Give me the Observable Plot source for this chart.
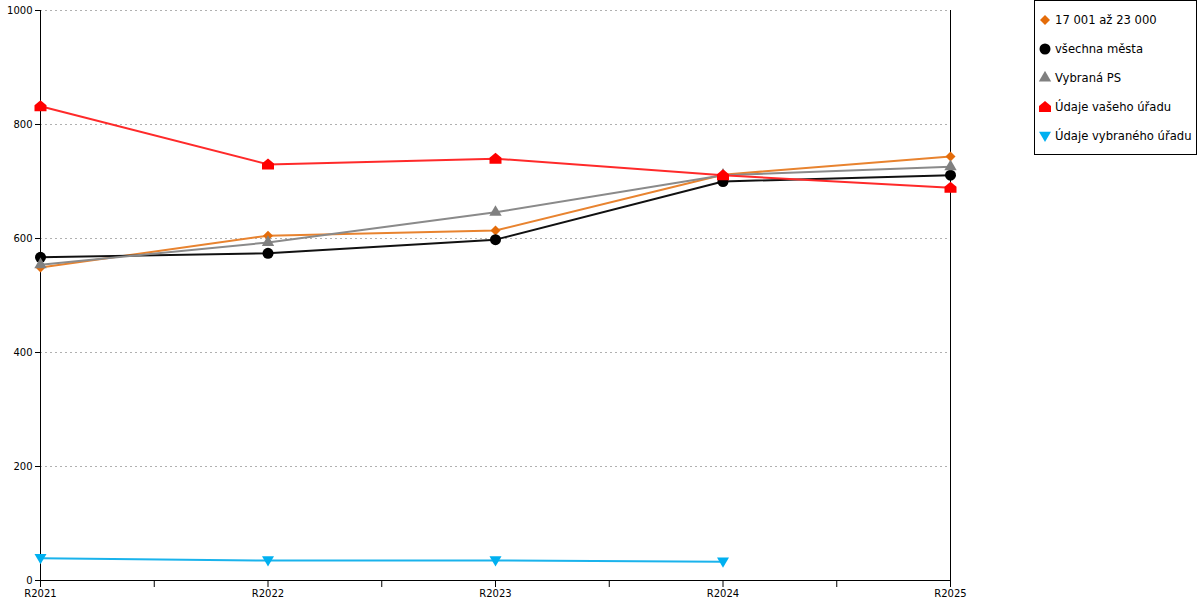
<!DOCTYPE html>
<html>
<head>
<meta charset="utf-8">
<script src="https://cdn.jsdelivr.net/npm/d3@7"></script>
<script src="https://cdn.jsdelivr.net/npm/@observablehq/plot@0.6"></script>
<style>
  html, body { margin: 0; padding: 0; background: #fff; }
  #wrap { position: relative; width: 1200px; height: 600px; font-family: "DejaVu Sans", sans-serif; }
  #legend { position: absolute; left: 1034px; top: 0px; width: 163px; height: 155px; border: 1px solid #000; background: #fff; box-sizing: border-box; font-size: 11.6px; }
  #legend .item { position: absolute; left: 0; height: 16px; display: flex; align-items: center; white-space: nowrap; }
  #legend svg { margin-left: 3px; margin-right: 3px; }
</style>
</head>
<body>
<div id="wrap">
  <div id="chart"></div>
  <div id="legend"></div>
</div>
<script>
const categories = ["R2021", "R2022", "R2023", "R2024", "R2025"];
const seriesNames = ["17 001 až 23 000", "všechna města", "Vybraná PS", "Údaje vašeho úřadu", "Údaje vybraného úřadu"];
const valuesOrange = [549, 605, 614, 712, 744];
const valuesBlack  = [567, 574, 598, 700, 711];
const valuesGray   = [554, 593, 646, 711, 726];
const valuesRed    = [832, 730, 740, 711, 689];
const valuesCyan   = [39, 35, 35, 33, null];
const yTicks = [0, 200, 400, 600, 800, 1000];

const house = {
  draw(ctx, size) {
    const r = Math.sqrt(size / Math.PI);
    ctx.moveTo(0, -r);
    ctx.lineTo(r, -r * 0.15);
    ctx.lineTo(r, r * 0.85);
    ctx.lineTo(-r, r * 0.85);
    ctx.lineTo(-r, -r * 0.15);
    ctx.closePath();
  }
};
const downTri = {
  draw(ctx, size) {
    const r = Math.sqrt(size / Math.PI);
    ctx.moveTo(-r, -r * 0.7);
    ctx.lineTo(r, -r * 0.7);
    ctx.lineTo(0, r * 1.0);
    ctx.closePath();
  }
};

const styles = [
  {name: seriesNames[0], values: valuesOrange, line: "#E8832F", fill: "#E46C0A", symbol: "diamond2", r: 4.5},
  {name: seriesNames[1], values: valuesBlack,  line: "#111111", fill: "#000000", symbol: "circle", r: 5.5},
  {name: seriesNames[2], values: valuesGray,   line: "#8A8A8A", fill: "#808080", symbol: "triangle", r: 4.6},
  {name: seriesNames[3], values: valuesRed,    line: "#FF2A2A", fill: "#FF0000", symbol: house, r: 6},
  {name: seriesNames[4], values: valuesCyan,   line: "#1AB3EC", fill: "#00B0F0", symbol: downTri, r: 6}
];

const yearOf = c => +c.slice(1);
const years = categories.map(yearOf);
const minorTicks = years.slice(0, -1).map(y => y + 0.5);

const marks = [
  Plot.gridY(yTicks.slice(1), {stroke: "#b0b0b0", strokeOpacity: 1, strokeDasharray: "2,3"}),
  Plot.axisY(yTicks, {tickSize: 5, tickPadding: 3, fontSize: 10, label: null, stroke: "#000", tickFormat: d3.format("d")}),
  Plot.axisX(years, {tickSize: 7, tickPadding: 2, fontSize: 10, label: null, tickFormat: d => "R" + d}),
  Plot.axisX(minorTicks, {tickSize: 7, tickFormat: () => "", label: null}),
  Plot.ruleX([years[0], years[years.length - 1]], {stroke: "#000", strokeWidth: 1}),
  Plot.ruleY([0], {stroke: "#000", strokeWidth: 1})
];

for (const s of styles) {
  const data = categories.map((c, i) => ({x: yearOf(c), y: s.values[i]})).filter(d => d.y != null);
  marks.push(Plot.line(data, {x: "x", y: "y", stroke: s.line, strokeWidth: 2}));
}
for (const s of styles) {
  const data = categories.map((c, i) => ({x: yearOf(c), y: s.values[i]})).filter(d => d.y != null);
  marks.push(Plot.dot(data, {x: "x", y: "y", symbol: s.symbol, fill: s.fill, stroke: "none", r: s.r}));
}

const chart = Plot.plot({
  width: 1200,
  height: 600,
  marginLeft: 40,
  marginRight: 250,
  marginTop: 10,
  marginBottom: 20,
  style: {fontFamily: "DejaVu Sans, sans-serif", fontSize: "10px", color: "#000", background: "#fff"},
  x: {type: "linear", domain: [years[0], years[years.length - 1]], axis: null},
  y: {domain: [0, 1000], axis: null},
  marks
});
document.getElementById("chart").appendChild(chart);

// legend
const legend = document.getElementById("legend");
const tops = [11, 40, 69, 98, 127];
styles.forEach((s, i) => {
  const item = document.createElement("div");
  item.className = "item";
  item.style.top = tops[i] + "px";
  const svg = d3.create("svg").attr("width", 14).attr("height", 14);
  const symType = typeof s.symbol === "string"
    ? ({diamond2: d3.symbolDiamond2, circle: d3.symbolCircle, triangle: d3.symbolTriangle})[s.symbol]
    : s.symbol;
  svg.append("path")
    .attr("transform", "translate(7,7)")
    .attr("d", d3.symbol(symType, Math.PI * s.r * s.r)())
    .attr("fill", s.fill);
  item.appendChild(svg.node());
  const span = document.createElement("span");
  span.textContent = s.name;
  item.appendChild(span);
  legend.appendChild(item);
});
</script>
</body>
</html>
